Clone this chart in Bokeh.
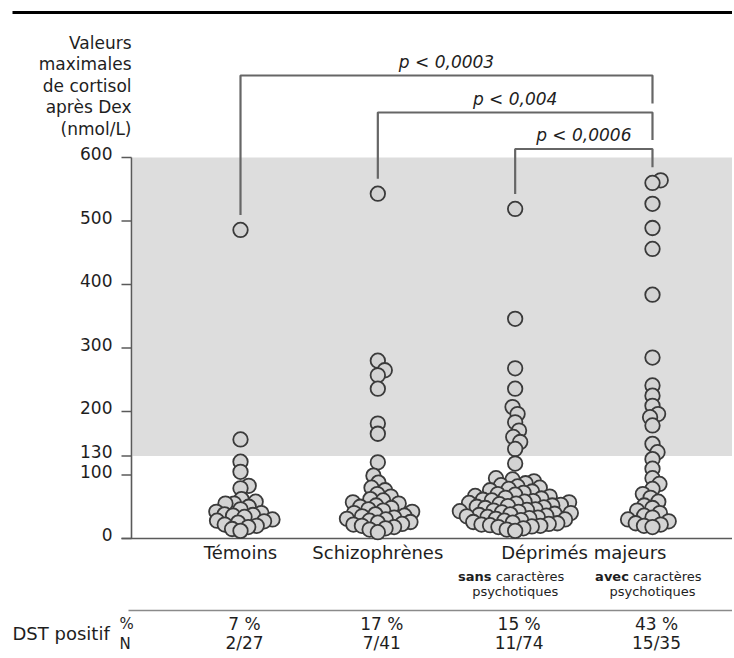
import math
from bokeh.plotting import figure
from bokeh.models import Range1d, ColumnDataSource
from bokeh.core.properties import value
from bokeh.embed import file_html
from bokeh.resources import INLINE

# ---------------- data ----------------
group_labels = ["Témoins", "Schizophrènes"]
major_label = "Déprimés majeurs"
sub_bold = ["sans", "avec"]
sub_rest = "caractères"
sub_line2 = "psychotiques"

temoins = [486, 156, 121, 105, 83, 79, 62, 58, 55, 55, 50, 46, 42, 40, 38, 37, 36,
           34, 30, 28, 27, 25, 22, 20, 18, 15, 12]
schizophrenes = [543, 280, 265, 257, 236, 181, 165, 120, 99, 88, 80, 76, 70, 66, 62,
                 60, 57, 55, 52, 50, 48, 46, 44, 42, 40, 38, 36, 35, 33, 31, 30, 28,
                 26, 25, 23, 22, 20, 18, 16, 14, 10]
deprimes_sans = [519, 346, 268, 236, 207, 196, 183, 170, 160, 152, 141, 118,
                 95, 93, 90, 87, 84, 82, 80, 78, 76, 74, 72, 70,
                 69, 67, 66, 64, 63, 61, 60, 59, 58, 57, 56,
                 55, 54, 53, 52, 51, 50, 49, 48, 46, 45, 44, 43, 42, 41,
                 40, 39, 38, 37, 36, 35, 34, 33, 32, 31, 30, 29, 28, 26,
                 25, 24, 23, 22, 21, 20, 19, 18, 16, 14, 12]
deprimes_avec = [564, 560, 527, 489, 456, 384, 285, 241, 225, 209, 196, 191, 178, 149,
                 136, 125, 110, 95, 86, 78, 70, 64, 58, 52, 48, 44, 40, 36, 33, 30, 27,
                 24, 22, 20, 18]

dst_percent = ["7 %", "17 %", "15 %", "43 %"]
dst_n = ["2/27", "7/41", "11/74", "15/35"]
dst_row_labels = ["%", "N"]
dst_title = "DST positif"

y_ticks = [0, 100, 130, 200, 300, 400, 500, 600]
dst_threshold = 130
y_axis_top = 600
y_title_lines = ["Valeurs", "maximales", "de cortisol", "après Dex", "(nmol/L)"]

comparisons = [(0, 3), (1, 3), (2, 3)]
p_labels = ["p < 0,0003", "p < 0,004", "p < 0,0006"]

# ---------------- geometry ----------------
W, H = 732, 656
CAT0_PX = 240.0      # canvas x of first group
CAT_STEP = 137.33    # px between groups
ZERO_PX = 538.0      # canvas y of value 0
UNIT_PX = 0.635      # px per nmol/L


def X(cx):
    return (cx - CAT0_PX) / CAT_STEP


def Y(cy):
    return (ZERO_PX - cy) / UNIT_PX


FONT = value("DejaVu Sans")
TXT = "#1e1e1e"
LINE = "#5a5a5a"

p = figure(width=W, height=H, output_backend="svg", toolbar_location=None,
           x_range=Range1d(X(0), X(W)), y_range=Range1d(Y(H), Y(0)),
           x_axis_location=None, y_axis_location=None, title=None,
           min_border=0, min_border_left=0, min_border_right=0,
           min_border_top=0, min_border_bottom=0)
p.outline_line_color = None
p.xgrid.visible = False
p.ygrid.visible = False
p.background_fill_color = "white"
p.border_fill_color = "white"

x_end = X(W)

# top rule
p.segment(x0=[X(12)], y0=[Y(12)], x1=[x_end], y1=[Y(12)], line_color="black", line_width=3)

# shaded band (above DST threshold)
p.quad(left=[X(132)], right=[x_end], bottom=[dst_threshold], top=[y_axis_top],
       fill_color="#dddddd", line_color=None)

# y axis: line, ticks, labels
axis_x = X(131)
p.segment(x0=[axis_x], y0=[0], x1=[axis_x], y1=[y_axis_top], line_color=LINE, line_width=1.6)
p.segment(x0=[X(121)] * len(y_ticks), y0=y_ticks, x1=[axis_x] * len(y_ticks), y1=y_ticks,
          line_color=LINE, line_width=1.6)
p.text(x=[X(112)] * len(y_ticks), y=y_ticks, text=[str(t) for t in y_ticks],
       text_font=FONT, text_font_size="17px", text_color=TXT,
       text_align="right", text_baseline="middle", y_offset=-4)

# baseline at 0
p.segment(x0=[X(121)], y0=[0], x1=[x_end], y1=[0], line_color=LINE, line_width=1.6)

# y title block
n_lines = len(y_title_lines)
p.text(x=[X(131)] * n_lines, y=[y_axis_top] * n_lines, text=y_title_lines,
       y_offset=[-29 - 21.5 * (n_lines - 1 - i) for i in range(n_lines)],
       text_font=FONT, text_font_size="17px", text_color=TXT,
       text_align="right", text_baseline="middle")

# brackets
groups = [temoins, schizophrenes, deprimes_sans, deprimes_avec]
bracket_cy = [75, 112, 148.5]
levels = [Y(c) for c in bracket_cy]
xs, ys = [], []
for k, (a, b) in enumerate(comparisons):
    lvl = levels[k]
    left_bottom = max(groups[a]) + 15 / UNIT_PX
    if k + 1 < len(comparisons):
        right_bottom = levels[k + 1] + 9 / UNIT_PX
    else:
        right_bottom = max(groups[b]) + 13 / UNIT_PX
    xs.append([a, a, b, b])
    ys.append([left_bottom, lvl, lvl, right_bottom])
p.multi_line(xs=xs, ys=ys, line_color="#666666", line_width=2.2)
p.text(x=[(a + b) / 2 for a, b in comparisons], y=levels, text=p_labels,
       text_font=FONT, text_font_size="17px", text_font_style="italic",
       text_color=TXT, text_align="center", text_baseline="bottom", y_offset=-4)


# beeswarm
def swarm_offsets(vals, d):
    ypx = [v * UNIT_PX for v in vals]
    order = sorted(range(len(vals)), key=lambda i: ypx[i])
    placed = []
    out = [0.0] * len(vals)
    for n, i in enumerate(order):
        y = ypx[i]
        cands = [0.0]
        for (px, py) in placed:
            dy = abs(y - py)
            if dy < d:
                dx = math.sqrt(d * d - dy * dy)
                cands.extend([px - dx, px + dx])
        sgn = 1 if n % 2 else -1
        cands.sort(key=lambda c: (round(abs(c), 6), sgn * c))
        for c in cands:
            if all((c - px) ** 2 + (y - py) ** 2 >= d * d - 1e-6 for px, py in placed):
                out[i] = c
                break
        placed.append((out[i], y))
    return out


px_all, py_all = [], []
for gi, vals in enumerate(groups):
    offs = swarm_offsets(vals, 8.6)
    px_all += [gi + o / CAT_STEP for o in offs]
    py_all += vals
src = ColumnDataSource(dict(x=px_all, y=py_all))
p.scatter("x", "y", source=src, size=14.5, marker="circle",
          fill_color="#d3d3d3", line_color="#3a3a3a", line_width=1.8)

# category labels
p.text(x=[0, 1, 2.5], y=[0, 0, 0], text=group_labels + [major_label],
       text_font=FONT, text_font_size="18px", text_color=TXT,
       text_align="center", text_baseline="middle", y_offset=14)
p.text(x=[2, 3], y=[0, 0], text=sub_bold, text_font=FONT, text_font_size="13px",
       text_font_style="bold", text_color=TXT, text_align="right",
       text_baseline="middle", x_offset=-23.6, y_offset=38)
p.text(x=[2, 3], y=[0, 0], text=[sub_rest, sub_rest], text_font=FONT,
       text_font_size="13px", text_color=TXT, text_align="left",
       text_baseline="middle", x_offset=-19.4, y_offset=38)
p.text(x=[2, 3], y=[0, 0], text=[sub_line2, sub_line2], text_font=FONT,
       text_font_size="13px", text_color=TXT, text_align="center",
       text_baseline="middle", y_offset=53)

# DST table
table_y = Y(610)
p.segment(x0=[X(128)], y0=[table_y], x1=[x_end], y1=[table_y], line_color="#8a8a8a", line_width=1.6)
cats = list(range(len(dst_percent)))
p.text(x=cats, y=[0] * 4, text=dst_percent, text_font=FONT, text_font_size="17px",
       text_color=TXT, text_align="center", text_baseline="middle", x_offset=4, y_offset=85)
p.text(x=cats, y=[0] * 4, text=dst_n, text_font=FONT, text_font_size="17px",
       text_color=TXT, text_align="center", text_baseline="middle", x_offset=4, y_offset=104)
p.text(x=[X(12)], y=[0], text=[dst_title], text_font=FONT, text_font_size="18px",
       text_color=TXT, text_align="left", text_baseline="middle", y_offset=95)
p.text(x=[X(119)] * 2, y=[0, 0], text=dst_row_labels, text_font=FONT, text_font_size="15px",
       text_color=TXT, text_align="left", text_baseline="middle", y_offset=[85, 105])

open("out.html", "w").write(file_html(p, INLINE))
